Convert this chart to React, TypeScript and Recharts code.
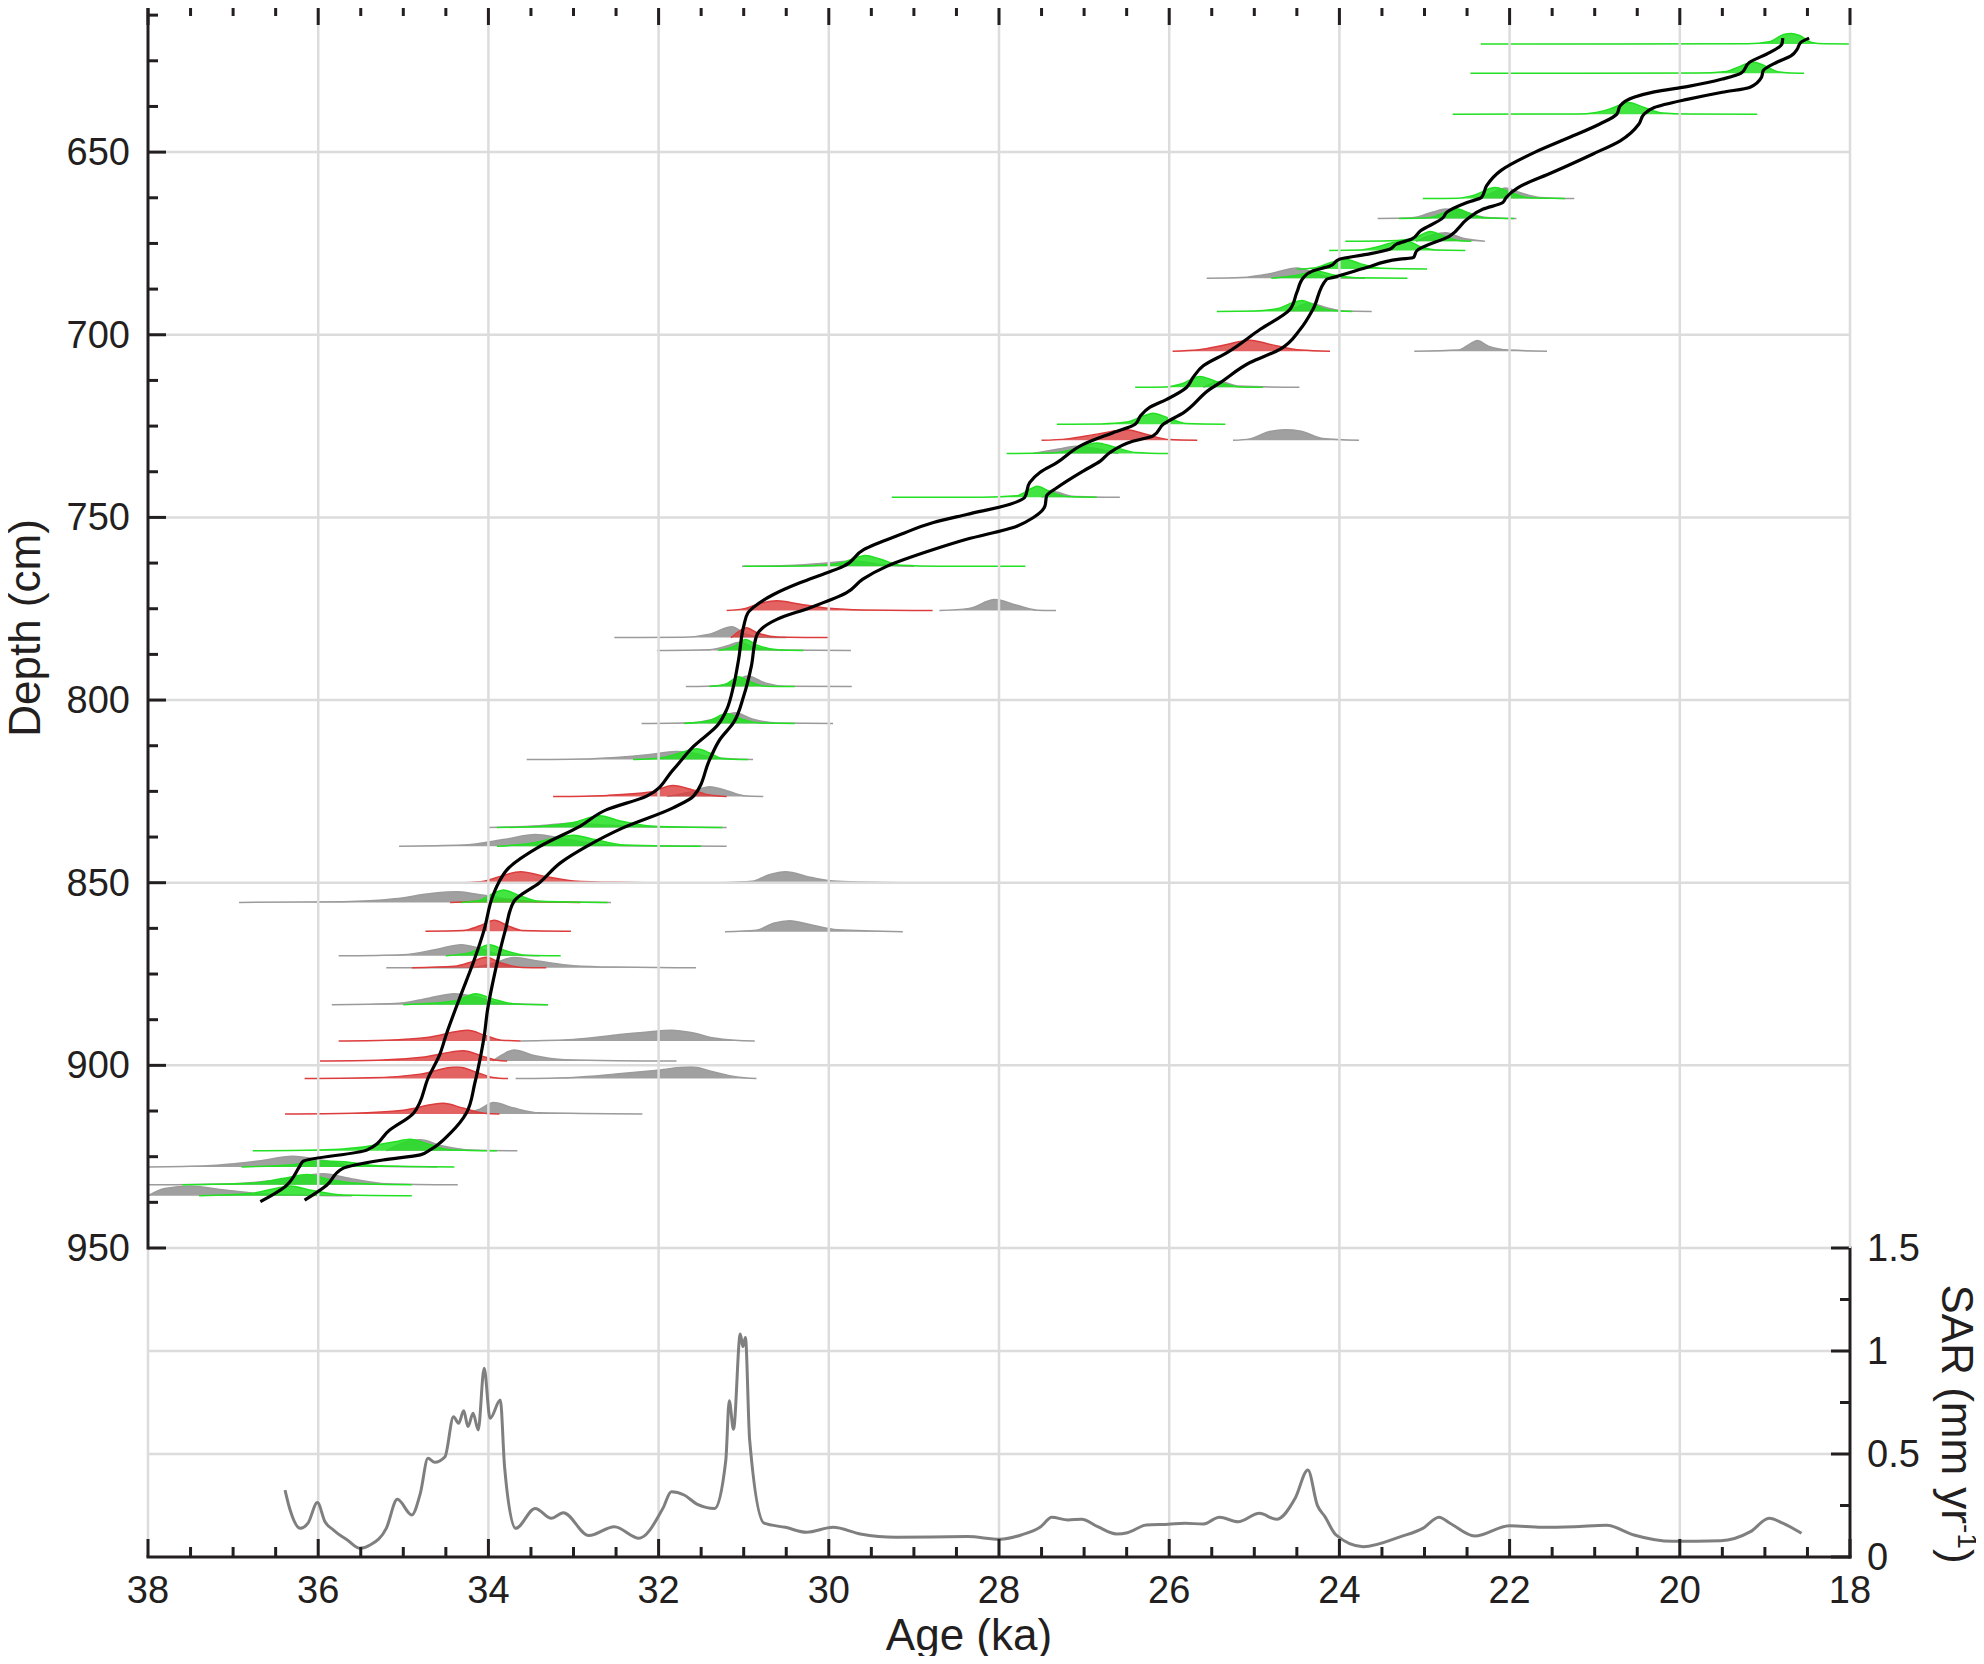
import React from 'react';
import { ComposedChart, Area, Line, XAxis, YAxis, ReferenceLine } from 'recharts';

type Pdf = { depth: number; pts: [number, number][] };

const FONT = '"Liberation Sans", Arial, sans-serif';
const INK = '#231f20';
const GRID = '#dcdcdc';

// axis labels
const ageLabels = [38, 36, 34, 32, 30, 28, 26, 24, 22, 20, 18];
const depthLabels = [650, 700, 750, 800, 850, 900, 950];
const sarLabels = [0, 0.5, 1, 1.5];

// minor ticks
const ageTicks: number[] = [];
for (let a = 18; a <= 38; a += 0.5) ageTicks.push(a);
const depthTicks: number[] = [];
for (let d = 612.5; d <= 950; d += 12.5) depthTicks.push(d);
const sarTicks = [0, 0.25, 0.5, 0.75, 1, 1.25, 1.5];

// age-depth model envelope [age ka, depth cm]
const olderBound: [number, number][] = [
  [18.79, 618.8], [18.8, 620.4], [18.94, 622.7], [19.18, 625.4], [19.28, 628.4], [19.5, 630], [19.9, 632],
  [20.3, 633.5], [20.54, 635], [20.7, 637.3], [20.74, 639.6], [20.94, 642.3], [21.3, 646], [21.7, 650],
  [22.1, 655], [22.27, 659.2], [22.33, 662.4], [22.5, 663.8], [22.74, 666.5], [22.78, 667.9], [23.05, 671.6],
  [23.15, 673.8], [23.33, 675.2], [23.41, 676.6], [23.68, 678], [24.0, 679.3], [24.11, 681.2], [24.31, 682.5],
  [24.42, 684.3], [24.5, 688.4], [24.58, 693], [24.93, 698.5], [25.32, 704.9], [25.6, 708.5], [25.72, 711.7],
  [25.8, 714.5], [26.03, 717.7], [26.23, 719.9], [26.34, 722.3], [26.4, 724.5], [26.66, 726.8], [27.01, 730],
  [27.32, 735], [27.52, 737.7], [27.64, 740.5], [27.7, 744.6], [27.87, 746.4], [28.38, 749.2], [28.77, 751.4],
  [29.16, 754.7], [29.59, 758.8], [29.83, 763.4], [30.03, 765.2], [30.34, 767.9], [30.65, 771.1], [30.89, 774.7],
  [30.95, 776.1], [31.0, 779.8], [31.06, 788.9], [31.12, 796.2], [31.2, 802.6], [31.3, 806.7], [31.59, 812.7],
  [31.83, 819.1], [32.14, 826.3], [32.61, 830], [32.92, 834.5], [33.39, 840], [33.78, 846.4], [33.88, 850],
  [33.95, 853.7], [34.05, 862.9], [34.18, 872], [34.33, 881.1], [34.49, 891.2], [34.58, 897.5], [34.7, 903],
  [34.88, 913.1], [35.16, 917.7], [35.43, 923.2], [36.18, 926.3], [36.22, 927.7], [36.39, 933.2], [36.68, 937.3],
];

const youngerBound: [number, number][] = [
  [18.48, 618.8], [18.58, 620], [18.62, 621.8], [18.69, 623.6], [18.86, 625.4], [19.02, 627.7], [19.04, 629.5],
  [19.18, 632.3], [19.5, 633.6], [19.9, 635.5], [20.3, 637.8], [20.42, 639.6], [20.48, 642.3], [20.7, 646.9],
  [21.02, 650.5], [21.5, 655.6], [21.9, 659.7], [22.04, 662.4], [22.08, 663.8], [22.31, 665.6], [22.5, 668.4],
  [22.7, 672.9], [23.09, 677], [23.13, 678.9], [23.29, 679.3], [23.68, 681.6], [24.07, 684.3], [24.15, 684.8],
  [24.31, 693], [24.46, 698.5], [24.7, 704], [25.05, 707.6], [25.4, 713.1], [25.52, 714.9], [25.83, 721.3],
  [26.07, 724.5], [26.19, 727.7], [26.42, 729.1], [26.7, 732.3], [26.81, 734.6], [27.01, 737.3], [27.32, 741.9],
  [27.44, 744.1], [27.46, 746.9], [27.6, 750.1], [27.79, 752.4], [28.38, 756], [28.77, 758.8], [29.32, 763.4],
  [29.6, 766.9], [29.79, 770.6], [30.22, 774.7], [30.61, 777.9], [30.85, 782.5], [30.91, 790.7], [31.0, 798.9],
  [31.12, 806.2], [31.28, 810.8], [31.4, 816.3], [31.59, 826.3], [31.83, 829.5], [32.42, 835], [32.84, 840],
  [33.15, 844.5], [33.4, 850], [33.7, 855.1], [33.8, 862.9], [33.88, 870.2], [33.95, 877.5], [34.01, 884.8],
  [34.05, 892.1], [34.1, 898.5], [34.16, 904.9], [34.26, 913.1], [34.45, 918.6], [34.69, 923.2], [34.8, 924.5],
  [35.24, 925.9], [35.71, 928.2], [35.9, 932.8], [36.16, 936.9],
];

// probability densities, [age ka, height cm] above the sample depth
const grayPdfs: Pdf[] = [
  { depth: 662.7, pts: [[22.4, 0], [22.2, 1.6], [22.05, 2.9], [21.9, 1.8], [21.65, 0.3], [21.24, 0]] },
  { depth: 668.2, pts: [[23.55, 0], [23.15, 0.2], [22.9, 1.8], [22.75, 2.6], [22.55, 2.0], [22.3, 0.4], [21.92, 0]] },
  { depth: 674.4, pts: [[23.1, 0], [22.9, 1.8], [22.75, 2.3], [22.55, 0.8], [22.29, 0]] },
  { depth: 684.5, pts: [[25.56, 0], [25.15, 0.2], [24.8, 1.3], [24.5, 2.8], [24.3, 1.5], [24.1, 0.2], [23.7, 0]] },
  { depth: 693.6, pts: [[24.6, 0], [24.35, 2.2], [24.15, 1.0], [23.95, 0.1], [23.62, 0]] },
  { depth: 704.5, pts: [[23.12, 0], [22.6, 0.3], [22.45, 2.2], [22.38, 2.9], [22.25, 1.4], [22.0, 0.3], [21.56, 0]] },
  { depth: 714.4, pts: [[25.6, 0], [25.4, 1.6], [25.2, 0.4], [24.47, 0]] },
  { depth: 728.9, pts: [[25.25, 0], [25.05, 0.4], [24.85, 2.2], [24.64, 2.9], [24.45, 2.5], [24.2, 0.5], [23.77, 0]] },
  { depth: 732.5, pts: [[27.6, 0], [27.3, 1.2], [27.1, 2.0], [26.9, 1.5], [26.6, 0]] },
  { depth: 744.5, pts: [[27.5, 0], [27.35, 1.5], [27.15, 0.3], [26.58, 0]] },
  { depth: 763.4, pts: [[31.02, 0], [30.4, 0.3], [30.0, 1.0], [29.7, 1.5], [29.4, 0.5], [29.0, 0]] },
  { depth: 775.5, pts: [[28.7, 0], [28.35, 0.6], [28.05, 3.0], [27.8, 1.5], [27.55, 0.1], [27.33, 0]] },
  { depth: 782.9, pts: [[32.52, 0], [31.7, 0.1], [31.4, 0.9], [31.14, 3.0], [30.98, 1.0], [30.8, 0.1], [30.5, 0]] },
  { depth: 786.4, pts: [[32.02, 0], [31.4, 0.2], [31.2, 1.2], [31.05, 2.2], [30.9, 1.0], [30.6, 0.1], [29.74, 0]] },
  { depth: 796.3, pts: [[31.68, 0], [31.25, 0.3], [31.08, 1.8], [30.95, 2.9], [30.75, 1.0], [30.5, 0.1], [29.73, 0]] },
  { depth: 806.4, pts: [[32.2, 0], [31.6, 0.2], [31.3, 1.5], [31.1, 2.9], [30.9, 1.2], [30.6, 0.1], [29.95, 0]] },
  { depth: 816.3, pts: [[33.55, 0], [32.9, 0.15], [32.5, 0.6], [32.1, 1.4], [31.8, 2.2], [31.6, 1.8], [31.35, 0.5], [30.89, 0]] },
  { depth: 826.4, pts: [[31.9, 0], [31.6, 1.4], [31.4, 2.7], [31.2, 1.6], [31.0, 0.2], [30.77, 0]] },
  { depth: 834.9, pts: [[34.0, 0], [33.4, 0.5], [33.0, 1.2], [32.6, 0.6], [32.0, 0.2], [31.2, 0]] },
  { depth: 840, pts: [[35.05, 0], [34.3, 0.3], [33.8, 1.9], [33.45, 3.2], [33.15, 2.2], [32.8, 0.8], [32.3, 0.1], [31.2, 0]] },
  { depth: 850, pts: [[31.28, 0], [30.9, 0.4], [30.7, 2.2], [30.51, 3.0], [30.2, 1.4], [29.9, 0.4], [29.13, 0]] },
  { depth: 855.4, pts: [[36.93, 0], [35.7, 0.2], [35.1, 1.0], [34.65, 2.5], [34.37, 2.9], [34.15, 2.3], [33.9, 1.4], [33.6, 0.3], [32.56, 0]] },
  { depth: 863.4, pts: [[31.22, 0], [30.85, 0.4], [30.65, 2.3], [30.46, 3.0], [30.2, 1.8], [29.9, 0.5], [29.13, 0]] },
  { depth: 870, pts: [[35.76, 0], [35.0, 0.3], [34.6, 1.8], [34.32, 3.0], [34.1, 2.0], [33.85, 0.3], [33.4, 0]] },
  { depth: 873.3, pts: [[35.2, 0], [34.2, 0.05], [33.95, 1.2], [33.7, 2.8], [33.4, 1.8], [33.0, 0.6], [32.5, 0.2], [31.56, 0]] },
  { depth: 883.4, pts: [[35.84, 0], [35.1, 0.3], [34.7, 1.8], [34.4, 3.0], [34.15, 2.2], [33.85, 0.4], [33.3, 0]] },
  { depth: 893.3, pts: [[33.62, 0], [33.0, 0.4], [32.5, 1.6], [32.1, 2.5], [31.85, 2.9], [31.6, 2.2], [31.35, 0.8], [31.1, 0.2], [30.87, 0]] },
  { depth: 898.8, pts: [[33.95, 0], [33.85, 1.5], [33.7, 3.0], [33.45, 1.4], [33.1, 0.3], [32.5, 0.05], [31.79, 0]] },
  { depth: 903.6, pts: [[33.68, 0], [33.0, 0.3], [32.5, 1.2], [32.0, 2.3], [31.62, 3.2], [31.35, 1.8], [31.1, 0.5], [30.85, 0]] },
  { depth: 913.3, pts: [[34.3, 0], [34.1, 1.3], [33.94, 3.1], [33.7, 1.6], [33.4, 0.3], [32.19, 0]] },
  { depth: 923.4, pts: [[35.2, 0], [34.95, 2.6], [34.8, 3.0], [34.55, 1.4], [34.2, 0.2], [33.66, 0]] },
  { depth: 927.8, pts: [[38.0, 0], [37.3, 0.3], [36.7, 1.6], [36.3, 2.9], [35.95, 1.8], [35.6, 0.4], [35.0, 0.05], [34.6, 0]] },
  { depth: 932.7, pts: [[38.0, 0], [37.0, 0.3], [36.4, 1.5], [35.94, 3.0], [35.6, 1.6], [35.2, 0.3], [34.36, 0]] },
  { depth: 935.7, pts: [[38.0, 0], [37.8, 2.0], [37.5, 2.6], [37.1, 1.6], [36.6, 0.4], [36.0, 0.05], [35.6, 0]] },
];

const redPdfs: Pdf[] = [
  { depth: 704.5, pts: [[25.96, 0], [25.65, 0.4], [25.35, 1.7], [25.05, 3.0], [24.8, 1.8], [24.45, 0.3], [24.11, 0]] },
  { depth: 728.9, pts: [[27.5, 0], [27.2, 0.4], [26.85, 1.7], [26.5, 2.9], [26.25, 1.5], [26.0, 0.2], [25.67, 0]] },
  { depth: 775.5, pts: [[31.2, 0], [30.98, 0.6], [30.8, 2.0], [30.61, 2.7], [30.35, 1.8], [30.0, 0.6], [29.6, 0.15], [28.78, 0]] },
  { depth: 782.9, pts: [[31.15, 0], [31.05, 1.8], [30.97, 2.7], [30.85, 1.4], [30.6, 0.15], [29.99, 0]] },
  { depth: 826.4, pts: [[33.24, 0], [32.6, 0.3], [32.1, 1.2], [31.83, 3.0], [31.6, 1.8], [31.4, 0.4], [31.2, 0]] },
  { depth: 850, pts: [[34.28, 0], [34.05, 0.4], [33.85, 1.8], [33.62, 3.0], [33.35, 1.8], [33.0, 0.5], [32.5, 0.1], [31.98, 0]] },
  { depth: 855.4, pts: [[34.45, 0], [34.0, 0.5], [33.8, 0.9], [33.5, 0.3], [32.92, 0]] },
  { depth: 863.3, pts: [[34.74, 0], [34.3, 0.2], [34.1, 1.5], [33.93, 3.0], [33.78, 1.6], [33.6, 0.2], [33.03, 0]] },
  { depth: 873.3, pts: [[34.9, 0], [34.4, 0.4], [34.2, 1.6], [34.03, 2.9], [33.85, 1.3], [33.6, 0.1], [33.32, 0]] },
  { depth: 893.3, pts: [[35.76, 0], [35.2, 0.2], [34.7, 1.0], [34.24, 2.9], [34.05, 1.6], [33.85, 0.2], [33.62, 0]] },
  { depth: 898.8, pts: [[35.98, 0], [35.3, 0.2], [34.75, 1.1], [34.29, 2.8], [34.08, 1.4], [33.9, 0.2], [33.78, 0]] },
  { depth: 903.6, pts: [[36.16, 0], [35.4, 0.2], [34.8, 1.2], [34.37, 3.2], [34.15, 1.8], [33.95, 0.3], [33.77, 0]] },
  { depth: 913.3, pts: [[36.39, 0], [35.6, 0.2], [35.0, 1.0], [34.53, 2.9], [34.3, 1.6], [34.05, 0.2], [33.87, 0]] },
];

const greenPdfs: Pdf[] = [
  { depth: 620.4, pts: [[22.34, 0], [19.2, 0.05], [18.95, 0.6], [18.78, 2.6], [18.69, 2.9], [18.6, 2.4], [18.45, 0.4], [18.3, 0.05], [18.0, 0]] },
  { depth: 628.4, pts: [[22.46, 0], [19.8, 0.05], [19.45, 0.5], [19.3, 1.8], [19.14, 3.1], [19.0, 2.0], [18.85, 0.4], [18.7, 0.05], [18.54, 0]] },
  { depth: 639.6, pts: [[22.67, 0], [21.2, 0.05], [21.0, 0.4], [20.8, 1.6], [20.6, 3.2], [20.42, 1.8], [20.2, 0.3], [19.9, 0.05], [19.09, 0]] },
  { depth: 662.7, pts: [[23.02, 0], [22.6, 0.1], [22.42, 0.9], [22.17, 3.0], [21.98, 1.6], [21.8, 0.3], [21.5, 0.05], [21.35, 0]] },
  { depth: 668.2, pts: [[23.3, 0], [22.95, 0.2], [22.78, 1.5], [22.62, 2.7], [22.47, 1.4], [22.3, 0.2], [21.95, 0]] },
  { depth: 674.4, pts: [[23.93, 0], [23.5, 0.05], [23.15, 0.6], [22.93, 2.7], [22.78, 1.5], [22.6, 0.2], [22.45, 0]] },
  { depth: 676.9, pts: [[24.12, 0], [23.75, 0.1], [23.55, 1.0], [23.35, 2.2], [23.2, 2.5], [23.05, 1.0], [22.85, 0.1], [22.52, 0]] },
  { depth: 682, pts: [[24.5, 0], [24.3, 0.3], [24.1, 1.8], [23.93, 2.7], [23.75, 1.4], [23.5, 0.2], [22.97, 0]] },
  { depth: 684.5, pts: [[24.8, 0], [24.5, 0.8], [24.27, 1.9], [24.05, 0.8], [23.8, 0.1], [23.2, 0]] },
  { depth: 693.6, pts: [[25.44, 0], [25.0, 0.1], [24.72, 0.8], [24.55, 2.4], [24.44, 3.0], [24.3, 1.8], [24.1, 0.3], [23.85, 0]] },
  { depth: 714.4, pts: [[26.4, 0], [26.05, 0.1], [25.85, 1.0], [25.64, 3.0], [25.45, 1.6], [25.2, 0.2], [24.9, 0]] },
  { depth: 724.5, pts: [[27.32, 0], [26.8, 0.1], [26.5, 0.6], [26.3, 2.3], [26.19, 3.0], [26.02, 1.8], [25.8, 0.2], [25.34, 0]] },
  { depth: 732.5, pts: [[27.91, 0], [27.4, 0.1], [27.15, 1.0], [26.85, 2.9], [26.65, 1.8], [26.4, 0.3], [25.99, 0]] },
  { depth: 744.5, pts: [[29.26, 0], [28.2, 0.05], [27.8, 0.4], [27.62, 2.4], [27.55, 3.0], [27.42, 1.8], [27.2, 0.2], [26.85, 0]] },
  { depth: 763.4, pts: [[31.0, 0], [30.2, 0.2], [29.85, 1.0], [29.65, 2.6], [29.57, 3.0], [29.4, 2.0], [29.15, 0.3], [28.7, 0.05], [27.69, 0]] },
  { depth: 786.4, pts: [[31.3, 0], [31.1, 1.2], [30.98, 3.0], [30.85, 1.5], [30.6, 0.2], [30.3, 0]] },
  { depth: 796.3, pts: [[31.4, 0], [31.2, 0.8], [31.06, 2.7], [30.95, 1.6], [30.75, 0.1], [30.4, 0]] },
  { depth: 806.4, pts: [[31.7, 0], [31.4, 0.8], [31.2, 2.7], [31.05, 1.4], [30.8, 0.1], [30.4, 0]] },
  { depth: 816.3, pts: [[32.3, 0], [31.95, 0.6], [31.75, 1.8], [31.55, 3.0], [31.4, 1.8], [31.25, 0.3], [30.95, 0]] },
  { depth: 834.9, pts: [[33.9, 0], [33.4, 0.3], [33.0, 1.4], [32.69, 3.2], [32.45, 1.8], [32.1, 0.4], [31.6, 0.05], [31.25, 0]] },
  { depth: 840, pts: [[33.9, 0], [33.5, 0.8], [33.2, 2.3], [33.0, 3.0], [32.75, 1.8], [32.4, 0.3], [31.9, 0.05], [31.5, 0]] },
  { depth: 855.4, pts: [[34.32, 0], [34.1, 0.6], [33.95, 2.4], [33.82, 3.4], [33.65, 2.0], [33.4, 0.3], [32.6, 0]] },
  { depth: 870, pts: [[34.5, 0], [34.2, 1.0], [33.99, 3.0], [33.8, 1.4], [33.55, 0.15], [33.15, 0]] },
  { depth: 883.4, pts: [[35.0, 0], [34.4, 1.0], [34.15, 3.0], [33.95, 1.6], [33.7, 0.2], [33.3, 0]] },
  { depth: 923.4, pts: [[36.77, 0], [36.0, 0.2], [35.5, 1.0], [35.1, 2.5], [34.92, 3.2], [34.7, 1.8], [34.45, 0.3], [33.9, 0]] },
  { depth: 927.8, pts: [[36.9, 0], [36.3, 0.6], [36.0, 1.6], [35.7, 1.4], [35.3, 0.3], [34.4, 0]] },
  { depth: 932.7, pts: [[37.6, 0], [36.8, 0.4], [36.4, 1.8], [36.13, 2.8], [35.85, 1.3], [35.4, 0.2], [34.9, 0]] },
  { depth: 935.7, pts: [[37.4, 0], [36.8, 0.6], [36.5, 2.0], [36.33, 2.7], [36.1, 1.6], [35.7, 0.2], [34.9, 0]] },
];

// sediment accumulation rate [age ka, mm/yr]
const sarCurve: [number, number][] = [
  [36.39, 0.325], [36.33, 0.228], [36.21, 0.139], [36.12, 0.164], [36.01, 0.264], [35.92, 0.171], [35.82, 0.131],
  [35.65, 0.08], [35.51, 0.042], [35.39, 0.058], [35.2, 0.139], [35.07, 0.28], [34.9, 0.204], [34.8, 0.309],
  [34.71, 0.479], [34.63, 0.46], [34.51, 0.487], [34.41, 0.681], [34.35, 0.649], [34.29, 0.71], [34.24, 0.633],
  [34.18, 0.698], [34.12, 0.617], [34.05, 0.916], [33.98, 0.673], [33.86, 0.762], [33.81, 0.438], [33.68, 0.139],
  [33.45, 0.236], [33.26, 0.188], [33.12, 0.215], [32.82, 0.104], [32.52, 0.147], [32.23, 0.091], [31.95, 0.236],
  [31.85, 0.317], [31.7, 0.301], [31.55, 0.257], [31.34, 0.236], [31.21, 0.471], [31.17, 0.759], [31.12, 0.62],
  [31.04, 1.083], [31.01, 1.021], [30.98, 1.066], [30.93, 0.568], [30.76, 0.164], [30.51, 0.144], [30.26, 0.12],
  [29.95, 0.144], [29.63, 0.112], [29.21, 0.096], [28.37, 0.099], [27.99, 0.086], [27.74, 0.107], [27.51, 0.147],
  [27.38, 0.193], [27.19, 0.18], [27.03, 0.183], [26.84, 0.147], [26.62, 0.112], [26.49, 0.118], [26.27, 0.155],
  [26.01, 0.159], [25.82, 0.164], [25.6, 0.16], [25.41, 0.193], [25.19, 0.171], [24.94, 0.212], [24.74, 0.183],
  [24.52, 0.285], [24.37, 0.422], [24.26, 0.252], [24.17, 0.196], [24.04, 0.107], [23.72, 0.05], [23.28, 0.099],
  [23.02, 0.139], [22.83, 0.193], [22.7, 0.164], [22.41, 0.102], [22.0, 0.152], [21.62, 0.144], [21.24, 0.147],
  [20.86, 0.154], [20.54, 0.107], [20.09, 0.076], [19.52, 0.079], [19.17, 0.123], [18.95, 0.188], [18.79, 0.164],
  [18.57, 0.115],
];

const isMajorAge = (v: number) => Number.isInteger(v / 2);

// plot frame on the page
const PLOT_LEFT = 148;
const PLOT_RIGHT = 1850;
const TOP_Y = 6;
const SPLIT_Y = 1248;
const BOTTOM_Y = 1557;
const LOWER_TOP = 1200; // page y of the lower chart's box

const TopAgeTick = (props: any) => {
  const { x, payload } = props;
  return (
    <line x1={x} x2={x} y1={TOP_Y} y2={TOP_Y + (isMajorAge(payload.value) ? 19 : 10)} stroke={INK} strokeWidth={3} />
  );
};

const BottomAgeTick = (props: any) => {
  const { x, payload } = props;
  const major = isMajorAge(payload.value);
  const y = BOTTOM_Y - LOWER_TOP;
  return (
    <g>
      <line x1={x} x2={x} y1={y} y2={y - (major ? 18 : 10)} stroke={INK} strokeWidth={3} />
      {major && (
        <text x={x} y={y + 46} textAnchor="middle" fontFamily={FONT} fontSize={38} fill={INK}>
          {payload.value}
        </text>
      )}
    </g>
  );
};

const DepthTick = (props: any) => {
  const { y, payload } = props;
  const major = depthLabels.includes(payload.value);
  const x = PLOT_LEFT;
  return (
    <g>
      <line x1={x} x2={x + (major ? 18 : 10)} y1={y} y2={y} stroke={INK} strokeWidth={3} />
      {major && (
        <text x={x - 18} y={y + 13} textAnchor="end" fontFamily={FONT} fontSize={38} fill={INK}>
          {payload.value}
        </text>
      )}
    </g>
  );
};

const SarTick = (props: any) => {
  const { y, payload } = props;
  const major = sarLabels.includes(payload.value);
  const x = PLOT_RIGHT;
  return (
    <g>
      <line x1={x} x2={x - (major ? 19 : 10)} y1={y} y2={y} stroke={INK} strokeWidth={3} />
      {major && (
        <text x={x + 17} y={y + 13} textAnchor="start" fontFamily={FONT} fontSize={38} fill={INK}>
          {String(payload.value)}
        </text>
      )}
    </g>
  );
};

const pdfArea = (p: Pdf, color: string, opacity: number, key: string) => (
  <Area
    key={key}
    xAxisId="age"
    yAxisId="depth"
    data={p.pts.map(([age, h]) => ({ age, top: p.depth - h }))}
    dataKey="top"
    baseValue={p.depth}
    type="monotone"
    stroke={color}
    strokeWidth={1.5}
    fill={color}
    fillOpacity={opacity}
    dot={false}
    activeDot={false}
    isAnimationActive={false}
  />
);

const axisLine = { stroke: INK, strokeWidth: 3, strokeLinecap: 'square' as const };

export default function App() {
  return (
    <div style={{ position: 'relative', width: 1984, height: 1664, margin: -8, background: '#fff' }}>
      {/* lower panel: SAR */}
      <div style={{ position: 'absolute', left: 0, top: LOWER_TOP }}>
        <ComposedChart width={1984} height={1664 - LOWER_TOP} margin={{ top: SPLIT_Y - LOWER_TOP, right: 0, bottom: 0, left: PLOT_LEFT }}>
          <XAxis
            dataKey="age"
            type="number"
            domain={[18, 38]}
            reversed
            allowDataOverflow
            orientation="bottom"
            height={1664 - BOTTOM_Y}
            ticks={ageTicks}
            interval={0}
            tickSize={0}
            tickMargin={0}
            tickLine={false}
            tick={BottomAgeTick}
            axisLine={axisLine}
            label={{
              value: 'Age (ka)',
              content: () => (
                <text x={969} y={BOTTOM_Y - LOWER_TOP + 93} textAnchor="middle" fontFamily={FONT} fontSize={44} fill={INK}>
                  Age (ka)
                </text>
              ),
            }}
          />
          <YAxis
            type="number"
            orientation="right"
            domain={[0, 1.5]}
            allowDataOverflow
            width={1984 - PLOT_RIGHT}
            ticks={sarTicks}
            interval={0}
            tickSize={0}
            tickMargin={0}
            tickLine={false}
            tick={SarTick}
            axisLine={axisLine}
            label={{
              value: 'SAR',
              content: () => (
                <text x={1942} y={224} transform="rotate(90 1942 224)" textAnchor="middle" fontFamily={FONT} fontSize={44} fill={INK}>
                  SAR (mm yr
                  <tspan fontSize={28} dy={-16}>-1</tspan>
                  <tspan dy={16}>)</tspan>
                </text>
              ),
            }}
          />
          {ageLabels.filter((a) => a !== 18).map((a) => (
            <ReferenceLine key={'bx' + a} x={a} stroke={GRID} strokeWidth={2.5} />
          ))}
          {[0.5, 1, 1.5].map((s) => (
            <ReferenceLine key={'by' + s} y={s} stroke={GRID} strokeWidth={2.5} />
          ))}
          <Line
            data={sarCurve.map(([age, sar]) => ({ age, sar }))}
            dataKey="sar"
            type="monotone"
            stroke="#7f7f7f"
            strokeWidth={3}
            dot={false}
            activeDot={false}
            isAnimationActive={false}
          />
        </ComposedChart>
      </div>

      {/* upper panel: age-depth model */}
      <div style={{ position: 'absolute', left: 0, top: 0 }}>
        <ComposedChart width={1984} height={1300} margin={{ top: 0, right: 134, bottom: 1300 - SPLIT_Y, left: 0 }}>
          <XAxis
            xAxisId="age"
            dataKey="age"
            type="number"
            domain={[18, 38]}
            reversed
            allowDataOverflow
            orientation="top"
            height={TOP_Y}
            ticks={ageTicks}
            interval={0}
            tickSize={0}
            tickMargin={0}
            tickLine={false}
            tick={TopAgeTick}
            axisLine={axisLine}
          />
          <YAxis
            yAxisId="depth"
            type="number"
            domain={[610, 950]}
            reversed
            allowDataOverflow
            width={PLOT_LEFT}
            ticks={depthTicks}
            interval={0}
            tickSize={0}
            tickMargin={0}
            tickLine={false}
            tick={DepthTick}
            axisLine={axisLine}
            label={{
              value: 'Depth (cm)',
              content: () => (
                <text x={40} y={628} transform="rotate(-90 40 628)" textAnchor="middle" fontFamily={FONT} fontSize={44} fill={INK}>
                  Depth (cm)
                </text>
              ),
            }}
          />
          {ageLabels.filter((a) => a !== 38).map((a) => (
            <ReferenceLine key={'vx' + a} xAxisId="age" yAxisId="depth" x={a} stroke={GRID} strokeWidth={2.5} />
          ))}
          {depthLabels.filter((d) => d !== 950).map((d) => (
            <ReferenceLine key={'hy' + d} xAxisId="age" yAxisId="depth" y={d} stroke={GRID} strokeWidth={2.5} />
          ))}
          {grayPdfs.map((p, i) => pdfArea(p, '#9b9b9b', 0.95, 'k' + i))}
          {redPdfs.map((p, i) => pdfArea(p, '#dc3c3c', 0.8, 'r' + i))}
          {greenPdfs.map((p, i) => pdfArea(p, '#22e022', 0.85, 'g' + i))}
          <Line
            xAxisId="age"
            yAxisId="depth"
            data={olderBound.map(([age, depth]) => ({ age, depth }))}
            dataKey="depth"
            type="monotoneY"
            stroke="#000"
            strokeWidth={3.2}
            dot={false}
            activeDot={false}
            isAnimationActive={false}
          />
          <Line
            xAxisId="age"
            yAxisId="depth"
            data={youngerBound.map(([age, depth]) => ({ age, depth }))}
            dataKey="depth"
            type="monotoneY"
            stroke="#000"
            strokeWidth={3.2}
            dot={false}
            activeDot={false}
            isAnimationActive={false}
          />
        </ComposedChart>
      </div>
    </div>
  );
}
